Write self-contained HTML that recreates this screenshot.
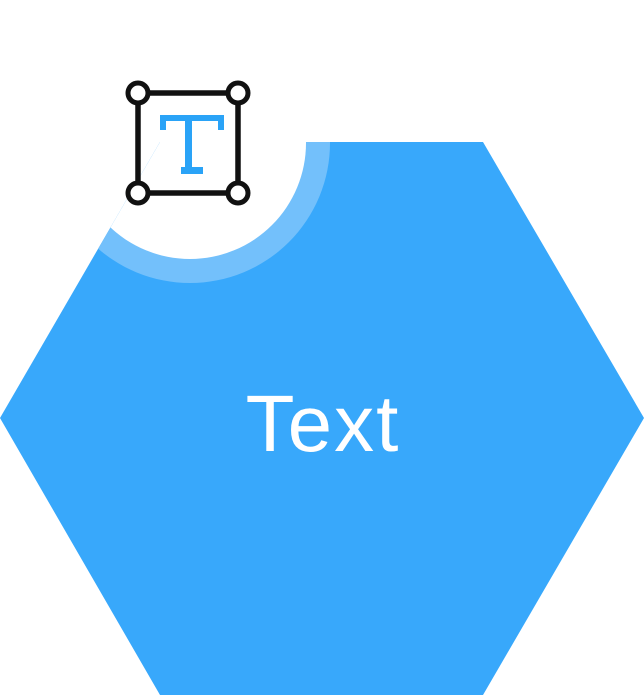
<!DOCTYPE html>
<html><head><style>html,body{margin:0;padding:0;background:#fff;width:644px;height:695px;overflow:hidden}</style></head>
<body>
<svg width="644" height="695" viewBox="0 0 644 695" xmlns="http://www.w3.org/2000/svg">
<defs><clipPath id="hx"><polygon points="160,142 483,142 644,418 483,695 160,695 0,418"/></clipPath></defs>
<polygon points="160,142 483,142 644,418 483,695 160,695 0,418" fill="#38a8fb"/>
<g clip-path="url(#hx)">
<circle cx="190" cy="143" r="140" fill="#73c0fb"/>
<circle cx="190" cy="143" r="116" fill="#fff"/>
</g>
<rect x="138" y="93" width="100" height="100" fill="none" stroke="#111" stroke-width="5.5"/>
<g fill="#fff" stroke="#111" stroke-width="5">
<circle cx="138" cy="93" r="10"/><circle cx="238" cy="93" r="10"/>
<circle cx="138" cy="193" r="10"/><circle cx="238" cy="193" r="10"/>
</g>
<g fill="#2aa3f7">
<rect x="160" y="115" width="64" height="6"/>
<rect x="160" y="115" width="6" height="15"/>
<rect x="218" y="115" width="6" height="15"/>
<rect x="185" y="115" width="7" height="58"/>
<rect x="181" y="167" width="22" height="7"/>
</g>
<text x="323" y="451" text-anchor="middle" font-family="Liberation Sans, sans-serif" font-size="80" letter-spacing="2" fill="#fff">Text</text>
</svg>
</body></html>
